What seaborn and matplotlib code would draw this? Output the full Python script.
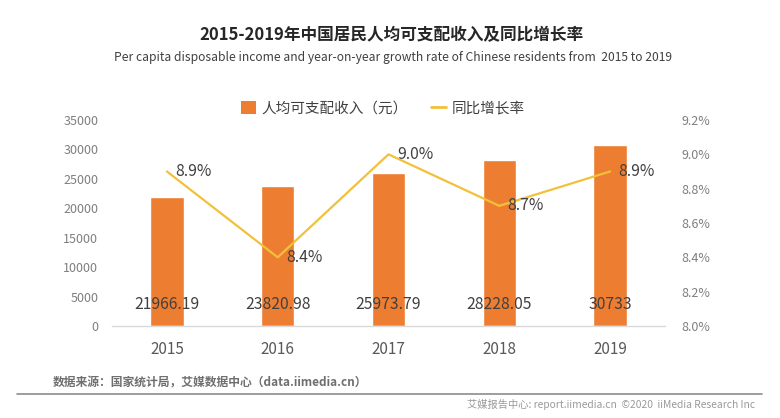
import matplotlib
matplotlib.use("Agg")
import matplotlib.pyplot as plt
import seaborn as sns
import pandas as pd
from matplotlib.patches import Patch
from matplotlib.lines import Line2D

years = ["2015", "2016", "2017", "2018", "2019"]
income = [21966.19, 23820.98, 25973.79, 28228.05, 30733]
income_labels = ["21966.19", "23820.98", "25973.79", "28228.05", "30733"]
growth = [8.9, 8.4, 9.0, 8.7, 8.9]
growth_labels = ["8.9%", "8.4%", "9.0%", "8.7%", "8.9%"]
left_ticks = [0, 5000, 10000, 15000, 20000, 25000, 30000, 35000]
right_ticks = [8.0, 8.2, 8.4, 8.6, 8.8, 9.0, 9.2]

BAR = "#ED7D31"
LINE = "#F3C03A"
FONT = ["Noto Sans CJK SC", "DejaVu Sans"]

sns.set_theme(style="white")
plt.rcParams["font.family"] = FONT

df = pd.DataFrame({"year": years, "income": income, "growth": growth})

fig = plt.figure(figsize=(7.8, 4.18), dpi=100)
ax = fig.add_axes([111.6 / 780, 1 - 326 / 418, 553.8 / 780, 206 / 418])

sns.barplot(data=df, x="year", y="income", color=BAR, width=0.30,
            saturation=1, ax=ax)
ax.set_ylim(0, 35000)
ax.set_xlim(-0.5, 4.5)
ax.set_yticks(left_ticks)
ax.set_yticklabels([str(t) for t in left_ticks], color="#7F7F7F", fontsize=9)
ax.set_xlabel("")
ax.set_ylabel("")
ax.tick_params(axis="x", colors="#595959", labelsize=11, length=0, pad=11)
ax.tick_params(axis="y", length=0, pad=9.5)
for s in ["top", "right", "left"]:
    ax.spines[s].set_visible(False)
ax.spines["bottom"].set_color("#D9D9D9")
ax.spines["bottom"].set_linewidth(1.0)

for i, lab in enumerate(income_labels):
    ax.text(i, 3600, lab, ha="center", va="center", fontsize=11.3,
            color="#404040")

ax2 = ax.twinx()
sns.pointplot(data=df, x="year", y="growth", color=LINE, markers="",
              linewidth=1.6, ax=ax2, errorbar=None)
ax2.set_ylim(8.0, 9.2)
ax2.set_xlim(-0.5, 4.5)
ax2.set_yticks(right_ticks)
ax2.set_yticklabels([f"{t:.1f}%" for t in right_ticks], color="#7F7F7F",
                    fontsize=9)
ax2.set_ylabel("")
ax2.tick_params(axis="y", length=0, pad=11.5)
for s in ["top", "right", "left", "bottom"]:
    ax2.spines[s].set_visible(False)

for i, (g, lab) in enumerate(zip(growth, growth_labels)):
    ax2.annotate(lab, (i, g), xytext=(6, 0), textcoords="offset points",
                 ha="left", va="center", fontsize=11.3, color="#404040")

handles = [Patch(facecolor=BAR, edgecolor="none", label="人均可支配收入（元）"),
           Line2D([0], [0], color=LINE, lw=2, label="同比增长率")]
fig.legend(handles=handles, loc="center", bbox_to_anchor=(383 / 780, 1 - 108 / 418),
           ncol=2, frameon=False, fontsize=10.5, handlelength=1.0,
           handleheight=1.0, handletextpad=0.4, columnspacing=1.6,
           labelcolor="#404040")

fig.text(391 / 780, 1 - 35 / 418, "2015-2019年中国居民人均可支配收入及同比增长率",
         ha="center", va="center", fontsize=12, fontweight="bold",
         color="#262626")
fig.text(393 / 780, 1 - 58 / 418,
         "Per capita disposable income and year-on-year growth rate of Chinese residents from  2015 to 2019",
         ha="center", va="center", fontsize=8.7, color="#404040")

fig.text(53 / 780, 1 - 383 / 418, "数据来源：国家统计局，艾媒数据中心（data.iimedia.cn）",
         ha="left", va="center", fontsize=8.5, fontweight="bold", color="#6F6F6F")
fig.add_artist(Line2D([17 / 780, 762 / 780], [1 - 394 / 418, 1 - 394 / 418],
                      color="#8C8C8C", lw=1.2))
fig.text(755 / 780, 1 - 404 / 418, "艾媒报告中心: report.iimedia.cn  ©2020  iiMedia Research Inc",
         ha="right", va="center", fontsize=7.4, color="#9A9A9A")

fig.savefig("out.png", dpi=100, facecolor="white")
